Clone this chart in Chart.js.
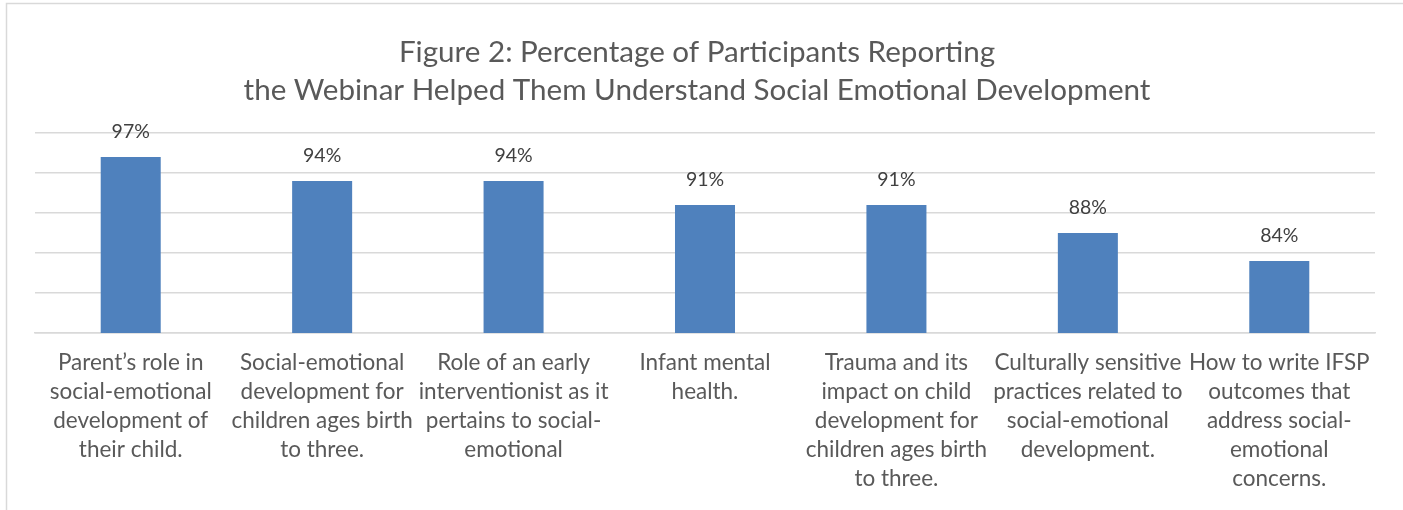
<!DOCTYPE html>
<html>
<head>
<meta charset="utf-8">
<script src="https://cdn.jsdelivr.net/npm/chart.js@4"></script>
<style>
  html, body { margin: 0; padding: 0; background: #ffffff; }
  #wrap { width: 1403px; height: 510px; position: relative; }
</style>
</head>
<body>
<div id="wrap"><canvas id="chart"></canvas></div>
<script>
// category labels, already broken into lines the way the original wraps them
const categories = [
  ["Parent\u2019s role in", "social-emotional", "development of", "their child."],
  ["Social-emotional", "development for", "children ages birth", "to three."],
  ["Role of an early", "interventionist as it", "pertains to social-", "emotional"],
  ["Infant mental", "health."],
  ["Trauma and its", "impact on child", "development for", "children ages birth", "to three."],
  ["Culturally sensitive", "practices related to", "social-emotional", "development."],
  ["How to write IFSP", "outcomes that", "address social-", "emotional", "concerns."]
];
// percentage of participants (labels show the rounded value)
const percents = [97, 94, 94, 91, 91, 87.5, 84];
// value axis
const yMin = 75;
const yMax = 100;
const yStep = 5;

const titleLines = [
  "Figure 2: Percentage of Participants Reporting",
  "the Webinar Helped Them Understand Social Emotional Development"
];

const FONT = "Lato, 'Open Sans', sans-serif";
const TEXT = "#595959";

// value labels above each bar
const barLabels = {
  id: "barLabels",
  afterDatasetsDraw(chart) {
    const ctx = chart.ctx;
    const meta = chart.getDatasetMeta(0);
    ctx.save();
    ctx.fillStyle = "#404040";
    ctx.font = "19.5px " + FONT;
    ctx.textAlign = "center";
    ctx.textBaseline = "middle";
    meta.data.forEach((bar, i) => {
      ctx.fillText(Math.round(percents[i]) + "%", bar.x, bar.y - 25);
    });
    ctx.restore();
  }
};

// frame (top/left edges show) and the two-line title, centred on the whole object
const frameAndTitle = {
  id: "frameAndTitle",
  beforeDraw(chart) {
    const ctx = chart.ctx;
    ctx.save();
    ctx.strokeStyle = "#d9d9d9";
    ctx.lineWidth = 1.5;
    ctx.beginPath();
    ctx.moveTo(6.5, 510);
    ctx.lineTo(6.5, 3.5);
    ctx.lineTo(1403, 3.5);
    ctx.stroke();

    ctx.fillStyle = TEXT;
    ctx.font = "29.6px " + FONT;
    ctx.textAlign = "center";
    ctx.textBaseline = "middle";
    titleLines.forEach((line, i) => {
      ctx.fillText(line, 697, 52 + i * 38.5);
    });
    ctx.restore();
  }
};

new Chart(document.getElementById("chart"), {
  type: "bar",
  data: {
    labels: categories,
    datasets: [{
      data: percents,
      backgroundColor: "#4f81bd",
      borderWidth: 0,
      barPercentage: 0.5,
      categoryPercentage: 0.627
    }]
  },
  plugins: [frameAndTitle, barLabels],
  options: {
    responsive: true,
    maintainAspectRatio: false,
    animation: false,
    layout: { padding: { left: 35, right: 28, top: 133, bottom: 0 } },
    plugins: {
      legend: { display: false },
      tooltip: { enabled: false },
      title: { display: false }
    },
    scales: {
      x: {
        grid: { display: false, drawTicks: false },
        border: { color: "#d9d9d9", width: 1.5 },
        ticks: {
          color: TEXT,
          font: { family: FONT, size: 22.5, lineHeight: "29px" },
          padding: 15,
          maxRotation: 0,
          autoSkip: false
        },
        afterFit(axis) { axis.height = 177; }
      },
      y: {
        min: yMin,
        max: yMax,
        border: { display: false },
        grid: { color: "#d9d9d9", lineWidth: 1.5, drawTicks: false },
        ticks: { display: false, stepSize: yStep }
      }
    }
  }
});
</script>
</body>
</html>
